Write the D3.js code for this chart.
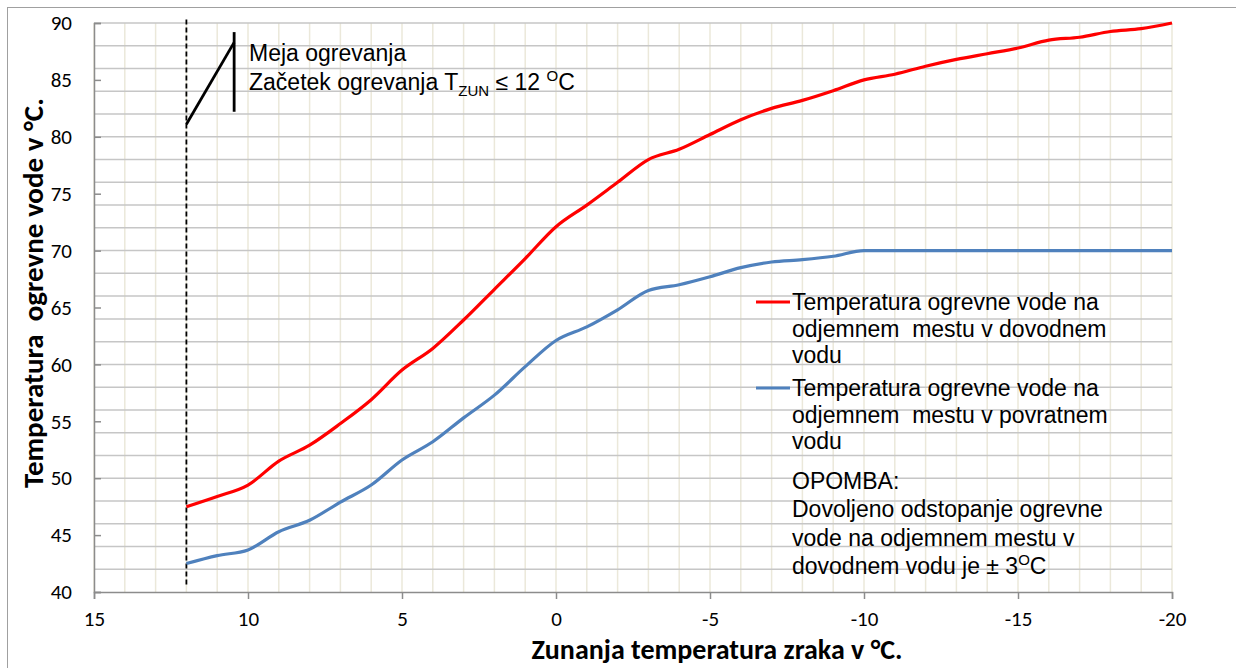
<!DOCTYPE html>
<html>
<head>
<meta charset="utf-8">
<script src="https://cdn.jsdelivr.net/npm/d3@7"></script>
<style>
  body { margin: 0; background: #fff; }
  svg { display: block; }
</style>
</head>
<body>
<svg id="chart" width="1236" height="668"></svg>
<script>
// outside air temperature (x) and water temperatures
var outsideTemp = [12, 11, 10, 9, 8, 7, 6, 5, 4, 3, 2, 1, 0, -1, -2, -3, -4, -5, -6, -7, -8, -9, -10,
                   -11, -12, -13, -14, -15, -16, -17, -18, -19, -20];
var supplyTemp = [47.5, 48.4, 49.4, 51.5, 52.9, 54.8, 56.9, 59.5, 61.4, 63.9, 66.6, 69.3, 72.1, 74.0, 76.0, 78.0, 78.9, 80.2, 81.5, 82.5, 83.2, 84.05, 85.0,
                  85.5, 86.2, 86.8, 87.3, 87.8, 88.5, 88.75, 89.25, 89.5, 90.0];
var returnTemp = [42.5, 43.2, 43.7, 45.3, 46.3, 47.9, 49.4, 51.6, 53.2, 55.3, 57.3, 59.8, 62.1, 63.3, 64.8, 66.5, 67.0, 67.7, 68.5, 69.0, 69.2, 69.5, 70.0,
                  70.0, 70.0, 70.0, 70.0, 70.0, 70.0, 70.0, 70.0, 70.0, 70.0];
var xTicks = [15, 10, 5, 0, -5, -10, -15, -20];
var yTicks = [40, 45, 50, 55, 60, 65, 70, 75, 80, 85, 90];
var seriesNames = ["Temperatura ogrevne vode na|odjemnem  mestu v dovodnem|vodu",
                   "Temperatura ogrevne vode na|odjemnem  mestu v povratnem|vodu"];
var seriesColors = ["#ff0000", "#4f81bd"];
var heatingLimit = 12;

var svg = d3.select("#chart");
var plotLeft = 94, plotRight = 1172, plotTop = 23, plotBottom = 592;

var x = d3.scaleLinear().domain([15, -20]).range([plotLeft, plotRight]);
var y = d3.scaleLinear().domain([40, 90]).range([plotBottom, plotTop]);

// outer chart frame
svg.append("rect")
  .attr("x", 7.5).attr("y", 7.5)
  .attr("width", 1300).attr("height", 700)
  .attr("fill", "none")
  .attr("stroke", "#a0a0a0")
  .attr("stroke-width", 1);

// vertical grid every 1 degree
svg.append("g").selectAll("line")
  .data(d3.range(15, -21, -1))
  .enter().append("line")
  .attr("x1", function(d){ return x(d); })
  .attr("x2", function(d){ return x(d); })
  .attr("y1", plotTop).attr("y2", plotBottom)
  .attr("stroke", "#ebe8da")
  .attr("stroke-width", 1.5);

// horizontal grid every 2 degrees
svg.append("g").selectAll("line")
  .data(d3.range(42, 91, 2))
  .enter().append("line")
  .attr("x1", plotLeft).attr("x2", plotRight)
  .attr("y1", function(d){ return y(d); })
  .attr("y2", function(d){ return y(d); })
  .attr("stroke", "#c6c6c6")
  .attr("stroke-width", 1.5);

// axes
var tickFont = "Carlito, Calibri, 'Liberation Sans', sans-serif";
var xAxis = d3.axisBottom(x).tickValues(xTicks).tickSize(7).tickPadding(12)
  .tickFormat(function(d){ return String(d); });
var gx = svg.append("g")
  .attr("transform", "translate(0," + plotBottom + ")")
  .call(xAxis);
gx.select(".domain").attr("stroke", "#8c8c8c").attr("stroke-width", 1.5);
gx.selectAll(".tick line").attr("stroke", "#8c8c8c").attr("stroke-width", 1.5);
gx.selectAll("text")
  .style("font-family", tickFont)
  .style("font-size", "21px")
  .attr("fill", "#000");

var yAxis = d3.axisLeft(y).tickValues(yTicks).tickSize(-7).tickPadding(22)
  .tickFormat(function(d){ return String(d); });
var gy = svg.append("g")
  .attr("transform", "translate(" + plotLeft + ",0)")
  .call(yAxis);
gy.select(".domain").attr("stroke", "#8c8c8c").attr("stroke-width", 1.5);
gy.selectAll(".tick line").attr("stroke", "#8c8c8c").attr("stroke-width", 1.5);
gy.selectAll("text")
  .style("font-family", tickFont)
  .style("font-size", "21px")
  .attr("fill", "#000");

// heating limit dashed line
svg.append("line")
  .attr("x1", x(heatingLimit)).attr("x2", x(heatingLimit))
  .attr("y1", y(90.3)).attr("y2", y(40.4))
  .attr("stroke", "#000")
  .attr("stroke-width", 1.8)
  .attr("stroke-dasharray", "5,3");

// series lines
var line = d3.line()
  .x(function(d){ return x(d[0]); })
  .y(function(d){ return y(d[1]); })
  .curve(d3.curveMonotoneX);

[supplyTemp, returnTemp].forEach(function(vals, i){
  svg.append("path")
    .datum(outsideTemp.map(function(t, j){ return [t, vals[j]]; }))
    .attr("d", line)
    .attr("fill", "none")
    .attr("stroke", seriesColors[i])
    .attr("stroke-width", 3.2)
    .attr("stroke-linejoin", "round");
});

// annotation callout
svg.append("line")
  .attr("x1", x(heatingLimit)).attr("y1", y(81.1))
  .attr("x2", x(10.45)).attr("y2", y(88.3))
  .attr("stroke", "#000").attr("stroke-width", 2.8);
svg.append("line")
  .attr("x1", x(10.45)).attr("y1", y(89.2))
  .attr("x2", x(10.45)).attr("y2", y(82.2))
  .attr("stroke", "#000").attr("stroke-width", 2.8);

var font = "'Liberation Sans', Arial, sans-serif";
var note = svg.append("g")
  .style("font-family", font)
  .style("font-size", "23px")
  .attr("fill", "#000");
note.append("text").attr("x", 249).attr("y", 61).text("Meja ogrevanja");
var l2 = note.append("text").attr("x", 249).attr("y", 90);
l2.append("tspan").text("Začetek ogrevanja T");
l2.append("tspan").attr("dy", 6).style("font-size", "15px").text("ZUN");
l2.append("tspan").attr("dy", -6).text(" ≤ 12 ");
l2.append("tspan").attr("dy", -9).style("font-size", "15px").text("O");
l2.append("tspan").attr("dy", 9).text("C");

// legend
var legend = svg.append("g")
  .style("font-family", font)
  .style("font-size", "23px")
  .attr("fill", "#000");
[302, 388].forEach(function(ly, i){
  legend.append("line")
    .attr("x1", 756).attr("x2", 790)
    .attr("y1", ly).attr("y2", ly)
    .attr("stroke", seriesColors[i])
    .attr("stroke-width", 3.2);
  seriesNames[i].split("|").forEach(function(s, k){
    legend.append("text")
      .attr("x", 792).attr("y", ly + 8 + k * 26.5)
      .style("white-space", "pre")
      .attr("xml:space", "preserve")
      .text(s);
  });
});

var remark = ["OPOMBA:", "Dovoljeno odstopanje ogrevne", "vode na odjemnem mestu v"];
remark.forEach(function(s, k){
  legend.append("text")
    .attr("x", 792).attr("y", 489 + k * 28.3)
    .text(s);
});
var last = legend.append("text").attr("x", 792).attr("y", 489 + 3 * 28.3);
last.append("tspan").text("dovodnem vodu je ± 3");
last.append("tspan").attr("dy", -9).style("font-size", "15px").text("O");
last.append("tspan").attr("dy", 9).text("C");

// axis titles
svg.append("text")
  .attr("x", 717).attr("y", 659)
  .attr("text-anchor", "middle")
  .style("font-family", "Carlito, Calibri, Lato, sans-serif")
  .style("font-weight", "bold")
  .style("font-size", "28px")
  .text("Zunanja temperatura zraka v °C.");

svg.append("text")
  .attr("transform", "translate(43,293) rotate(-90)")
  .attr("text-anchor", "middle")
  .style("font-family", "Carlito, Calibri, Lato, sans-serif")
  .style("font-weight", "bold")
  .style("font-size", "29px")
  .style("white-space", "pre")
  .attr("xml:space", "preserve")
  .text("Temperatura  ogrevne vode v °C.");
</script>
</body>
</html>
